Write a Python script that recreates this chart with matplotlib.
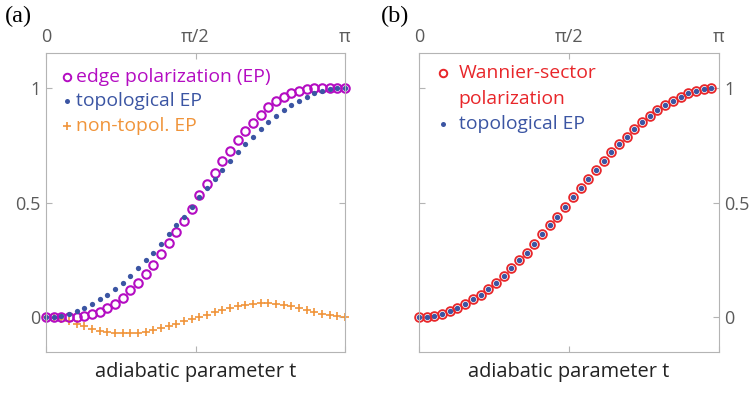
import numpy as np
import matplotlib
matplotlib.use("Agg")
import matplotlib.pyplot as plt

# adiabatic parameter grid: t_k = k*pi/39
n_a = 40
t = np.arange(n_a) * np.pi / 39

# topological edge polarization (same curve in both panels)
topo_ep = [0.0, 0.0, 0.004, 0.011, 0.024, 0.039, 0.058, 0.079, 0.096, 0.123,
           0.149, 0.181, 0.214, 0.247, 0.281, 0.319, 0.361, 0.400, 0.437, 0.479,
           0.524, 0.564, 0.603, 0.641, 0.682, 0.721, 0.754, 0.786, 0.819, 0.851,
           0.877, 0.903, 0.925, 0.944, 0.962, 0.977, 0.988, 0.996, 1.0, 1.0]

# total edge polarization
edge_pol = [0.0, 0.0, 0.0, -0.001, 0.0, 0.006, 0.013, 0.023, 0.038, 0.058,
            0.083, 0.118, 0.150, 0.188, 0.229, 0.275, 0.322, 0.370, 0.419, 0.471,
            0.531, 0.581, 0.627, 0.681, 0.726, 0.771, 0.812, 0.849, 0.884, 0.916,
            0.942, 0.962, 0.980, 0.987, 0.994, 1.0, 1.0, 1.0, 1.0, 1.0]

# non-topological edge polarization
nontopo_ep = [0.0, -0.003, -0.009, -0.019, -0.029, -0.041, -0.052, -0.061, -0.067, -0.070,
              -0.071, -0.071, -0.070, -0.064, -0.058, -0.049, -0.041, -0.029, -0.017, -0.009,
              0.0, 0.010, 0.020, 0.031, 0.039, 0.048, 0.054, 0.058, 0.061, 0.062,
              0.058, 0.052, 0.047, 0.038, 0.029, 0.022, 0.015, 0.007, 0.003, 0.0]

# panel (b): Wannier-sector polarization, 39 points
n_b = 39
wannier_pol = topo_ep[:n_b]

xtick_pos = [0, np.pi / 2, np.pi]
xtick_lab = ["0", "\u03c0/2", "\u03c0"]
ytick_pos = [0, 0.5, 1]
ytick_lab = ["0", "0.5", "1"]

MAGENTA = "#b40cc2"
BLUE = "#3b55a3"
ORANGE = "#f0943a"
RED = "#e8262a"
SPINE = "#b4b4b4"
TICKTXT = "#5a5a5a"
FS = 13.9

plt.rcParams["font.family"] = ["Open Sans", "DejaVu Sans"]

fig = plt.figure(figsize=(7.54, 3.98), dpi=100)
ax_a = fig.add_axes([46 / 754, 46 / 398, 299 / 754, 299 / 398])
ax_b = fig.add_axes([419 / 754, 46 / 398, 300 / 754, 299 / 398])


def style_axes(ax, ylab_side):
    ax.set_xlim(0, np.pi)
    ax.set_ylim(-0.153, 1.153)
    for s in ax.spines.values():
        s.set_color(SPINE)
        s.set_linewidth(0.8)
    ax.set_xticks(xtick_pos)
    ax.set_xticklabels(xtick_lab)
    ax.set_yticks(ytick_pos)
    ax.set_yticklabels(ytick_lab)
    ax.tick_params(axis="both", direction="in", length=4, width=0.8, color=SPINE,
                   labelcolor=TICKTXT, labelsize=13)
    ax.tick_params(axis="x", top=True, bottom=True, labeltop=True, labelbottom=False, pad=5)
    ax.tick_params(axis="y", left=True, right=True,
                   labelleft=(ylab_side == "left"), labelright=(ylab_side == "right"), pad=4)
    ax.set_xlabel("adiabatic parameter t", fontsize=14.4, color="#222222", labelpad=7)


# ---- panel (a)
style_axes(ax_a, "left")
ax_a.plot(t, nontopo_ep, "+", color=ORANGE, ms=5.2, mew=1.2, clip_on=False)
ax_a.plot(t, edge_pol, "o", mfc="none", mec=MAGENTA, ms=6.1, mew=1.5, clip_on=False)
ax_a.plot(t, topo_ep, "o", color=BLUE, ms=3.8, mew=0, clip_on=False)

leg_a = [("o", "edge polarization (EP)", MAGENTA, 0.921),
         (".", "topological EP", BLUE, 0.841),
         ("+", "non-topol. EP", ORANGE, 0.756)]
for mk, lab, col, yy in leg_a:
    if mk == "o":
        ax_a.plot(0.07, yy, "o", mfc="none", mec=col, ms=5.4, mew=1.4, transform=ax_a.transAxes)
    elif mk == ".":
        ax_a.plot(0.07, yy, "o", color=col, ms=3.6, mew=0, transform=ax_a.transAxes)
    else:
        ax_a.plot(0.07, yy, "+", color=col, ms=5.2, mew=1.2, transform=ax_a.transAxes)
    ax_a.text(0.1, yy, lab, color=col, fontsize=FS, va="center", ha="left",
              transform=ax_a.transAxes)

# ---- panel (b)
style_axes(ax_b, "right")
ax_b.plot(t[:n_b], wannier_pol, "o", mfc="none", mec=RED, ms=6.3, mew=1.3, clip_on=False)
ax_b.plot(t[:n_b], topo_ep[:n_b], "o", color=BLUE, ms=3.9, mew=0, clip_on=False)

ax_b.plot(0.08, 0.933, "o", mfc="none", mec=RED, ms=5.4, mew=1.4, transform=ax_b.transAxes)
ax_b.text(0.132, 0.933, "Wannier-sector", color=RED, fontsize=FS, va="center",
          transform=ax_b.transAxes)
ax_b.text(0.132, 0.846, "polarization", color=RED, fontsize=FS, va="center",
          transform=ax_b.transAxes)
ax_b.plot(0.08, 0.763, "o", color=BLUE, ms=3.6, mew=0, transform=ax_b.transAxes)
ax_b.text(0.132, 0.763, "topological EP", color=BLUE, fontsize=FS, va="center",
          transform=ax_b.transAxes)

fig.text(5 / 754, 1 - 16 / 398, "(a)", family="Liberation Serif", fontsize=17.5,
         va="center", ha="left")
fig.text(381 / 754, 1 - 16 / 398, "(b)", family="Liberation Serif", fontsize=17.5,
         va="center", ha="left")

fig.savefig("out.png", dpi=100)
